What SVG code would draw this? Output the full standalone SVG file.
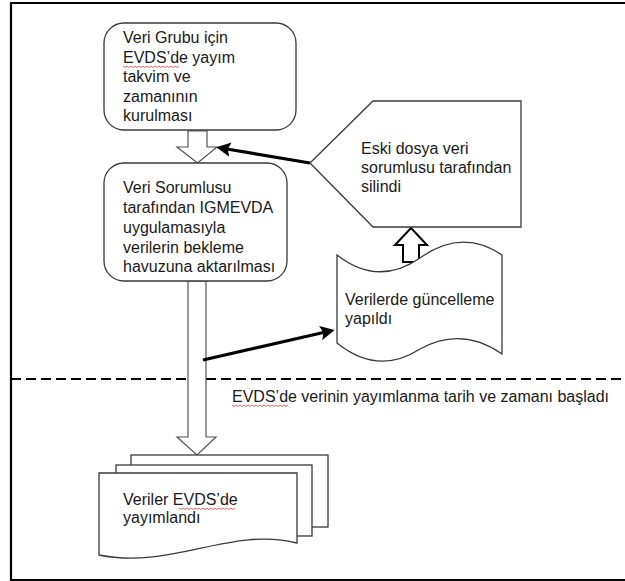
<svg xmlns="http://www.w3.org/2000/svg" width="625" height="581" viewBox="0 0 625 581">
<defs>
<style>
.t{font-family:"Liberation Sans",Arial,sans-serif;font-size:16px;fill:#1a1a1a}
.box{fill:#fff;stroke:#3a3a3a;stroke-width:1.3}
.hol{fill:#fff;stroke:#555;stroke-width:1.2}
.thick{stroke:#000;stroke-width:3.2;fill:none}
.sq{fill:none;stroke:#d04040;stroke-width:0.8}
</style>
<marker id="ah" markerWidth="4.5" markerHeight="4.5" refX="3" refY="2.25" orient="auto" markerUnits="strokeWidth">
<path d="M0,0 L4.5,2.25 L0,4.5 L0.9,2.25 Z" fill="#000"/>
</marker>
</defs>
<rect width="625" height="581" fill="#fff"/>
<path d="M625,3 H11 V580 H625" fill="none" stroke="#000" stroke-width="2.2"/>
<line x1="11" y1="379" x2="625" y2="379" stroke="#000" stroke-width="2" stroke-dasharray="10,5"/>

<g id="connectors">
<path class="hol" d="M188,131 H207 V147 H217 L197.5,163 L177,147 H188 Z"/>
<path class="hol" d="M188,281 H206 V437 H216 L197,455 L177,437 H188 Z"/>
<path fill="#fff" stroke="#000" stroke-width="2" d="M403,262 V245 H395 L411,228 L427,245 H419 V262 Z"/>
<line class="thick" x1="310" y1="163" x2="221" y2="148" marker-end="url(#ah)"/>
<line class="thick" x1="203" y1="360" x2="330" y2="331" marker-end="url(#ah)"/>
</g>

<g id="n1">
<rect class="box" x="104" y="23" width="192" height="107" rx="20"/>
<text class="t" x="123" y="43">Veri Grubu için</text>
<text class="t" x="123" y="62.5">EVDS’de yayım</text>
<text class="t" x="123" y="82">takvim ve</text>
<text class="t" x="123" y="101.5">zamanının</text>
<text class="t" x="123" y="121">kurulması</text>
<path class="sq" d="M123,66 l2,1.5 l2,-1.5 l2,1.5 l2,-1.5 l2,1.5 l2,-1.5 l2,1.5 l2,-1.5 l2,1.5 l2,-1.5 l2,1.5 l2,-1.5 l2,1.5 l2,-1.5 l2,1.5 l2,-1.5 l2,1.5 l2,-1.5 l2,1.5 l2,-1.5 l2,1.5 l2,-1.5 l2,1.5 l2,-1.5 l2,1.5 l2,-1.5 l2,1.5 l2,-1.5"/>
</g>

<g id="n2">
<rect class="box" x="104" y="163" width="183" height="118" rx="20"/>
<text class="t" x="123" y="193">Veri Sorumlusu</text>
<text class="t" x="123" y="213">tarafından IGMEVDA</text>
<text class="t" x="123" y="233">uygulamasıyla</text>
<text class="t" x="123" y="252.5">verilerin bekleme</text>
<text class="t" x="123" y="272">havuzuna aktarılması</text>
</g>

<g id="n3">
<path class="box" d="M310,163 L373,101 H521 V227 H373 Z"/>
<text class="t" x="361" y="154">Eski dosya veri</text>
<text class="t" x="361" y="173">sorumlusu tarafından</text>
<text class="t" x="361" y="192">silindi</text>
</g>

<g id="n4">
<path class="box" d="M337,255 Q378,287 420,258 Q462,228 502,255 V354 Q462,326 420,349 Q378,376 337,343 Z"/>
<text class="t" x="345" y="305">Verilerde güncelleme</text>
<text class="t" x="345" y="324">yapıldı</text>
</g>

<g id="n5">
<rect class="box" x="131" y="455" width="197" height="72"/>
<rect class="box" x="116" y="465" width="196" height="71"/>
<path class="box" d="M99,473 H297 V543 C232,526 170,570 99,555 Z"/>
<text class="t" x="123" y="505">Veriler EVDS’de</text>
<text class="t" x="123" y="523">yayımlandı</text>
<path class="sq" d="M179,508 l2,1.5 l2,-1.5 l2,1.5 l2,-1.5 l2,1.5 l2,-1.5 l2,1.5 l2,-1.5 l2,1.5 l2,-1.5 l2,1.5 l2,-1.5 l2,1.5 l2,-1.5 l2,1.5 l2,-1.5 l2,1.5 l2,-1.5 l2,1.5 l2,-1.5 l2,1.5 l2,-1.5 l2,1.5 l2,-1.5 l2,1.5 l2,-1.5 l2,1.5 l2,-1.5"/>
</g>

<g id="n6">
<text class="t" x="232" y="402">EVDS’de verinin yayımlanma tarih ve zamanı başladı</text>
<path class="sq" d="M232,405 l2,1.5 l2,-1.5 l2,1.5 l2,-1.5 l2,1.5 l2,-1.5 l2,1.5 l2,-1.5 l2,1.5 l2,-1.5 l2,1.5 l2,-1.5 l2,1.5 l2,-1.5 l2,1.5 l2,-1.5 l2,1.5 l2,-1.5 l2,1.5 l2,-1.5 l2,1.5 l2,-1.5 l2,1.5 l2,-1.5 l2,1.5 l2,-1.5 l2,1.5 l2,-1.5"/>
</g>
</svg>
